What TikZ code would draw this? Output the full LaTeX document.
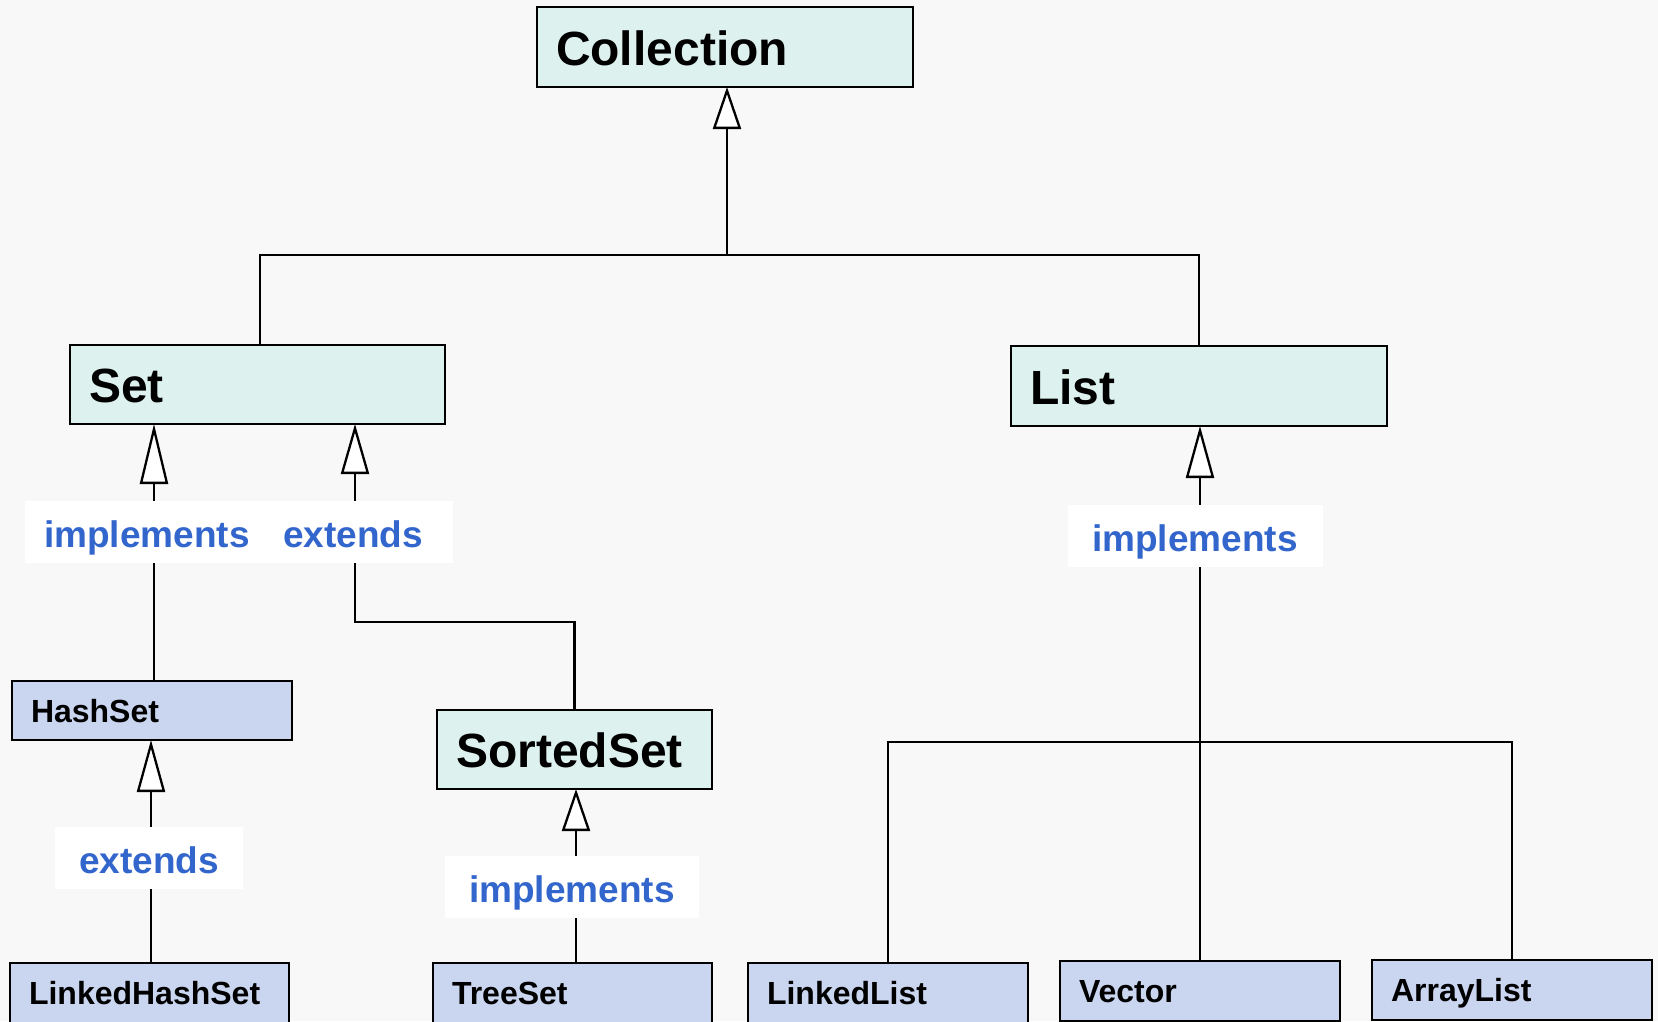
\documentclass[tikz,border=0pt]{standalone}
\usepackage{fontspec}
\setmainfont{Liberation Sans}
\usetikzlibrary{arrows.meta}
\definecolor{ifacefill}{HTML}{DDF2EE}
\definecolor{classfill}{HTML}{CAD6F0}
\definecolor{relblue}{HTML}{3366CC}
\definecolor{paper}{HTML}{F8F8F8}
\tikzset{
  box/.style={draw=black, line width=2.3pt, outer sep=0pt, anchor=north west,
    align=left, inner xsep=19pt, inner ysep=0pt},
  iface/.style 2 args={box, fill=ifacefill, text width=#1, minimum height=#2,
    font=\fontsize{48}{51}\selectfont\bfseries, text height=36pt, text depth=0pt},
  cls/.style 2 args={box, fill=classfill, text width=#1, minimum height=#2,
    font=\fontsize{32}{35}\selectfont\bfseries, text height=23pt, text depth=0pt},
  rel/.style={fill=white, text=relblue, font=\fontsize{37}{40}\selectfont\bfseries,
    inner sep=0pt, text height=30pt, text depth=0pt, minimum height=62pt,
    minimum width=#1},
  link/.style={line width=2.3pt},
  inh/.style={link, -{Triangle[length=#1, width=28pt, fill=white]}},
}
\begin{document}
\begin{tikzpicture}[x=1pt, y=-1pt]
  \useasboundingbox (0,0) rectangle (1658,1021);
  \fill[paper] (0,0) rectangle (1658,1021);

  % interfaces
  \node[iface={338pt}{80pt}] (coll) at (537,7) {Collection};
  \node[iface={337pt}{79pt}] (set) at (70,345) {Set};
  \node[iface={338pt}{80pt}] (list) at (1011,346) {List};
  \node[iface={237pt}{79pt}] (sorted) at (437,710) {SortedSet};

  % classes
  \node[cls={242pt}{59pt}] (hash) at (12,681) {HashSet};
  \node[cls={241pt}{60pt}] (lhash) at (10,963) {LinkedHashSet};
  \node[cls={241pt}{60pt}] (tree) at (433,963) {TreeSet};
  \node[cls={242pt}{60pt}] (llist) at (748,963) {LinkedList};
  \node[cls={242pt}{60pt}] (vector) at (1060,961) {Vector};
  \node[cls={242pt}{60pt}] (alist) at (1372,960) {ArrayList};

  % junction points
  \coordinate (top) at (727,255);
  \coordinate (busL) at (260,255);
  \coordinate (busR) at (1199,255);
  \coordinate (hx) at (154,600);
  \coordinate (elbow) at (355,622);
  \coordinate (lhx) at (151,900);
  \coordinate (sx) at (576,900);
  \coordinate (lbL) at (888,742);
  \coordinate (lbR) at (1512,742);

  % Collection hierarchy
  \draw[link] (busL |- set.north) -- (busL) -- (busR) -- (busR |- list.north);
  \draw[inh=42pt] (top) -- (top |- coll.south);

  % Set hierarchy
  \draw[inh=60pt] (hx |- hash.north) -- (hx |- set.south);
  \draw[inh=50pt] (sorted.north) |- (elbow) -- (elbow |- set.south);
  \draw[inh=52pt] (lhx |- lhash.north) -- (lhx |- hash.south);
  \draw[inh=42pt] (sx |- tree.north) -- (sx |- sorted.south);

  % List hierarchy
  \draw[inh=52pt] (vector.north) -- (vector.north |- list.south);
  \draw[link] (lbL |- llist.north) -- (lbL) -- (lbR) -- (lbR |- alist.north);

  % relation labels
  \node[rel=244pt] (r1) at (147,532) {implements};
  \node[rel=200pt] (r2) at (353,532) {extends};
  \node[rel=188pt] (r3) at (149,858) {extends};
  \node[rel=254pt] (r4) at (572,887) {implements};
  \node[rel=255pt] (r5) at (1195,536) {implements};
\end{tikzpicture}
\end{document}
